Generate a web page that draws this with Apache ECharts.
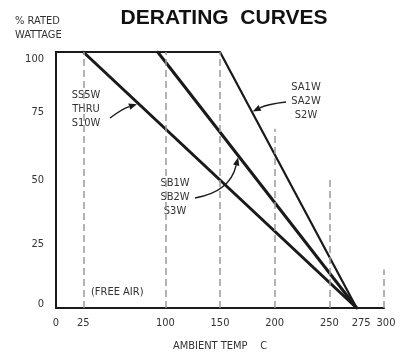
<!DOCTYPE html>
<html><head><meta charset="utf-8">
<script src="https://cdn.jsdelivr.net/npm/echarts@6/dist/echarts.min.js"></script>
<style>html,body{margin:0;padding:0;background:#fff}#chart{width:406px;height:357px}</style>
</head><body><div id="chart"></div>
<script>
// Axis tick labels shown on the temperature axis
const tempTicks = [0, 25, 100, 150, 200, 250, 275, 300];
// Derating curves: [ambient temp C, % rated wattage]
const curveSS5W = [[25, 100], [275, 0]];
const curveSB1W = [[93, 100], [275, 0]];
const curveSA1W = [[0, 100], [150, 100], [275, 0]];
// Dashed reference verticals: temperature and how high each is drawn (%)
const guideTemps = [25, 100, 150, 200, 250, 300];
const guideTops = [100, 100, 100, 70, 50, 15];

const FONT = '"DejaVu Sans Condensed", "Liberation Sans Narrow", "Roboto Condensed", "Liberation Sans", sans-serif';
const INK = '#1a1a1a';

const chart = echarts.init(document.getElementById('chart'), null, { renderer: 'canvas' });

const lineSeries = (name, data, width) => ({
  name, type: 'line', data, symbol: 'none', animation: false, silent: true,
  lineStyle: { color: INK, width, cap: 'round', join: 'round' }
});

const tickFont = { fontFamily: FONT, fontSize: 11, color: '#333' };

chart.setOption({
  animation: false,
  title: {
    text: 'DERATING  CURVES', left: 219, top: 3, textAlign: 'center',
    textStyle: { fontFamily: '"Liberation Sans", Arial, sans-serif', fontWeight: 'bold', fontSize: 21, color: '#111' }
  },
  grid: { left: 56, right: 22, top: 52, bottom: 46 },
  xAxis: {
    type: 'value', min: 0, max: 300, interval: 25,
    name: 'AMBIENT TEMP    C', nameLocation: 'middle', nameGap: 33,
    nameTextStyle: tickFont,
    axisLine: { show: true, lineStyle: { color: INK, width: 2 } },
    axisTick: { show: false },
    splitLine: { show: false },
    axisLabel: Object.assign({
      margin: 10,
      formatter: v => !tempTicks.includes(v) ? '' : (v === 275 ? '{r|275}' : v === 300 ? '{s|300}' : String(v)),
      rich: { r: Object.assign({ padding: [0, 0, 0, 9] }, tickFont), s: Object.assign({ padding: [0, 0, 0, 4] }, tickFont) }
    }, tickFont)
  },
  yAxis: {
    type: 'value', min: 0, max: 100, interval: 25,
    axisLine: { show: true, lineStyle: { color: INK, width: 2 } },
    axisTick: { show: false },
    splitLine: { show: false },
    axisLabel: Object.assign({
      margin: 12,
      formatter: v => v === 100 ? '{d|100}' : v === 0 ? '{u|0}' : v === 75 ? '{u|75}' : String(v),
      rich: { d: Object.assign({ padding: [15, 0, 0, 0] }, tickFont), u: Object.assign({ padding: [0, 0, 7, 0] }, tickFont) }
    }, tickFont)
  },
  series: [
    Object.assign(lineSeries('SS5W-S10W', curveSS5W, 3), {
      markLine: {
        silent: true, symbol: 'none', animation: false,
        label: { show: false },
        lineStyle: { color: '#9a9a9a', type: [7, 4], width: 1.5 },
        data: guideTemps.map((t, i) => [{ coord: [t, 0] }, { coord: [t, guideTops[i]] }])
      }
    }),
    lineSeries('SB1W-S3W', curveSB1W, 3),
    lineSeries('SA1W-S2W', curveSA1W, 2.2)
  ]
});

// value of a polyline curve at temperature t
function curveAt(curve, t) {
  for (let i = 0; i < curve.length - 1; i++) {
    const [x0, y0] = curve[i], [x1, y1] = curve[i + 1];
    if (t >= x0 && t <= x1) return y0 + (y1 - y0) * (t - x0) / (x1 - x0);
  }
  return curve[curve.length - 1][1];
}
const px = (t, v) => chart.convertToPixel({ gridIndex: 0 }, [t, v]);

// curved leader from a label to a point on a curve, ending in a filled arrowhead
function leader(tail, ctrl, tip) {
  const ang = Math.atan2(tip[1] - ctrl[1], tip[0] - ctrl[0]);
  const L = 8, W = 3.2;
  const back = [tip[0] - L * Math.cos(ang), tip[1] - L * Math.sin(ang)];
  const nx = -Math.sin(ang) * W, ny = Math.cos(ang) * W;
  return [
    { type: 'bezierCurve', silent: true,
      shape: { x1: tail[0], y1: tail[1], cpx1: ctrl[0], cpy1: ctrl[1], x2: back[0], y2: back[1] },
      style: { stroke: INK, lineWidth: 1.4, fill: null } },
    { type: 'polygon', silent: true,
      shape: { points: [tip, [back[0] + nx, back[1] + ny], [back[0] - nx, back[1] - ny]] },
      style: { fill: INK } }
  ];
}

const label = (x, y, text, align) => ({
  type: 'text', x, y, silent: true,
  style: { text, fill: '#333', font: '11px ' + FONT, align: align || 'center', verticalAlign: 'top', lineHeight: 14 }
});

const tipSS = px(74, curveAt(curveSS5W, 74));
const tipSA = px(179, curveAt(curveSA1W, 179));
const tipSB = px(166.5, curveAt(curveSB1W, 166.5));

chart.setOption({
  graphic: [
    label(15, 14, '% RATED\nWATTAGE', 'left'),
    label(86, 88, 'SS5W\nTHRU\nS10W'),
    label(306, 80, 'SA1W\nSA2W\nS2W'),
    label(175, 176, 'SB1W\nSB2W\nS3W'),
    label(91, 285, '(FREE AIR)', 'left'),
    ...leader([110, 118], [122, 109], [tipSS[0], tipSS[1] + 2]),
    ...leader([286, 102], [268, 104], [tipSA[0] + 1, tipSA[1]]),
    ...leader([195, 198], [230, 192], [tipSB[0], tipSB[1] + 2])
  ]
});
</script>
</body></html>
